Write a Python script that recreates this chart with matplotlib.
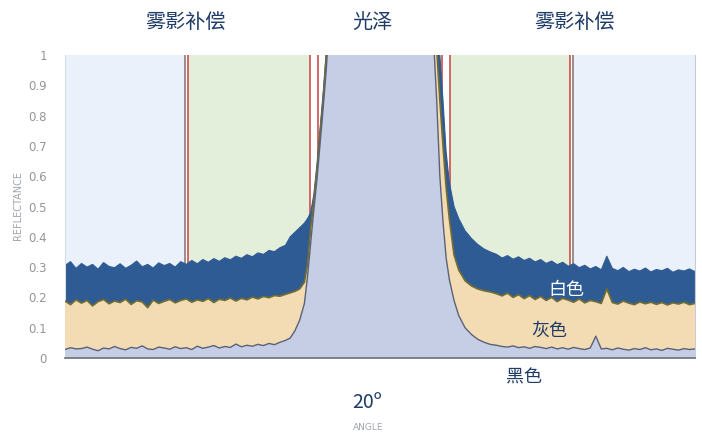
import matplotlib
matplotlib.use("Agg")
import matplotlib.pyplot as plt
import numpy as np

plt.rcParams['font.family'] = ['Noto Sans CJK SC', 'DejaVu Sans']

# ---------------- data ----------------
angle_left = [0.0, 0.35, 0.7, 1.05, 1.4, 1.75, 2.1, 2.45, 2.8, 3.15,
              3.5, 3.85, 4.2, 4.55, 4.9, 5.25, 5.6, 5.95, 6.3, 6.65,
              7.0, 7.35, 7.7, 8.05, 8.4, 8.75, 9.1, 9.45, 9.8, 10.15,
              10.5, 10.85, 11.2, 11.55, 11.9, 12.25, 12.6, 12.95, 13.3, 13.65, 14.0]
white_left = [0.305, 0.318, 0.296, 0.312, 0.300, 0.309, 0.293, 0.315, 0.302, 0.298,
              0.311, 0.296, 0.306, 0.320, 0.301, 0.309, 0.297, 0.314, 0.305, 0.312,
              0.300, 0.318, 0.309, 0.322, 0.311, 0.325, 0.316, 0.328, 0.319, 0.331,
              0.324, 0.336, 0.329, 0.341, 0.334, 0.347, 0.342, 0.355, 0.351, 0.364, 0.372]
gray_left = [0.188, 0.176, 0.192, 0.181, 0.190, 0.172, 0.186, 0.193, 0.179, 0.188,
             0.183, 0.194, 0.177, 0.189, 0.185, 0.166, 0.191, 0.180, 0.187, 0.193,
             0.182, 0.190, 0.195, 0.184, 0.192, 0.187, 0.196, 0.183, 0.194, 0.190,
             0.198, 0.188, 0.197, 0.192, 0.201, 0.195, 0.203, 0.199, 0.206, 0.204, 0.210]
black_left = [0.028, 0.034, 0.030, 0.031, 0.036, 0.029, 0.024, 0.033, 0.030, 0.038,
              0.031, 0.027, 0.035, 0.032, 0.040, 0.030, 0.028, 0.036, 0.033, 0.029,
              0.037, 0.031, 0.034, 0.028, 0.039, 0.032, 0.036, 0.041, 0.033, 0.038,
              0.035, 0.046, 0.037, 0.042, 0.039, 0.045, 0.041, 0.048, 0.044, 0.052, 0.058]

angle_peak = [14.3, 14.6, 14.9, 15.2, 15.4, 15.6, 15.8, 16.0, 16.2, 16.4, 16.6, 16.8, 17.2,
              20.0,
              22.8, 23.2, 23.4, 23.6, 23.8, 24.0, 24.2, 24.4, 24.7, 25.0, 25.4, 25.8, 26.2, 26.6, 27.0]
white_peak = [0.40, 0.415, 0.43, 0.445, 0.46, 0.48, 0.54, 0.64, 0.76, 0.88, 1.02, 1.2, 1.5,
              3.0,
              1.5, 1.3, 1.18, 1.08, 1.0, 0.85, 0.68, 0.58, 0.50, 0.46, 0.42, 0.395, 0.375, 0.36, 0.35]
gray_peak = [0.215, 0.22, 0.228, 0.25, 0.31, 0.43, 0.52, 0.62, 0.74, 0.86, 1.0, 1.18, 1.5,
             3.0,
             1.5, 1.25, 1.12, 1.02, 0.85, 0.70, 0.56, 0.46, 0.34, 0.29, 0.255, 0.238, 0.228, 0.222, 0.218]
black_peak = [0.066, 0.09, 0.125, 0.18, 0.27, 0.38, 0.49, 0.59, 0.71, 0.83, 0.96, 1.14, 1.5,
              3.0,
              1.5, 1.2, 1.05, 0.85, 0.6, 0.45, 0.33, 0.26, 0.19, 0.14, 0.10, 0.078, 0.062, 0.052, 0.045]

angle_right = [27.4, 27.75, 28.1, 28.45, 28.8, 29.15, 29.5, 29.85, 30.2, 30.55,
               30.9, 31.25, 31.6, 31.95, 32.3, 32.65, 33.0, 33.35, 33.7, 34.05,
               34.4, 34.75, 35.1, 35.45, 35.8, 36.15, 36.5, 36.85, 37.2, 37.55,
               37.9, 38.25, 38.6, 38.95, 39.3, 39.65, 40.0]
white_right = [0.342, 0.330, 0.338, 0.326, 0.334, 0.322, 0.329, 0.317, 0.325, 0.312,
               0.320, 0.308, 0.316, 0.303, 0.311, 0.298, 0.306, 0.294, 0.302, 0.291,
               0.336, 0.296, 0.288, 0.299, 0.285, 0.293, 0.287, 0.297, 0.284, 0.292,
               0.288, 0.296, 0.283, 0.291, 0.287, 0.294, 0.285]
gray_right = [0.212, 0.205, 0.214, 0.200, 0.209, 0.196, 0.206, 0.193, 0.203, 0.190,
              0.200, 0.186, 0.197, 0.191, 0.184, 0.195, 0.182, 0.190, 0.186, 0.180,
              0.228, 0.183, 0.178, 0.188, 0.181, 0.176, 0.185, 0.179, 0.184, 0.177,
              0.183, 0.175, 0.182, 0.178, 0.184, 0.176, 0.180]
black_right = [0.042, 0.038, 0.036, 0.040, 0.034, 0.037, 0.032, 0.038, 0.035, 0.031,
               0.036, 0.030, 0.034, 0.029, 0.035, 0.031, 0.028, 0.033, 0.072, 0.030,
               0.032, 0.027, 0.033, 0.029, 0.026, 0.031, 0.028, 0.034, 0.027, 0.030,
               0.025, 0.032, 0.029, 0.026, 0.031, 0.028, 0.030]

# zones (angle)
haze_left = (7.81, 15.56)
haze_right = (24.44, 32.06)
outer_left = (0.0, 7.62)
outer_right = (32.25, 40.0)
red_lines = [7.81, 15.56, 16.06, 23.94, 24.44, 32.06]
gray_lines = [7.62, 32.25]

y_ticks = [0, 0.1, 0.2, 0.3, 0.4, 0.5, 0.6, 0.7, 0.8, 0.9, 1]
y_tick_labels = ['0', '0.1', '0.2', '0.3', '0.4', '0.5', '0.6', '0.7', '0.8', '0.9', '1']

# ---------------- figure ----------------
x = np.array(angle_left + angle_peak + angle_right)
white = np.array(white_left + white_peak + white_right)
gray = np.array(gray_left + gray_peak + gray_right)
black = np.array(black_left + black_peak + black_right)

W, H = 702, 434
fig = plt.figure(figsize=(W / 100, H / 100), dpi=100)
ax = fig.add_axes([65 / W, 1 - 358 / H, (695 - 65) / W, (358 - 55) / H])

ax.axvspan(*outer_left, color='#eaf1fa', zorder=0, lw=0)
ax.axvspan(*outer_right, color='#eaf1fa', zorder=0, lw=0)
ax.axvspan(*haze_left, color='#e3efda', zorder=0, lw=0)
ax.axvspan(*haze_right, color='#e3efda', zorder=0, lw=0)
for v in red_lines:
    ax.axvline(v, color='#c9504a', lw=1.2, zorder=1)
for v in gray_lines:
    ax.axvline(v, color='#8e7a78', lw=1.2, zorder=1)

ax.fill_between(x, 0, white, color='#2f5b94', lw=0, zorder=2)
ax.plot(x, white, color='#2f5b94', lw=0.8, zorder=2)
ax.fill_between(x, 0, gray, color='#f3dcb4', lw=0, zorder=3)
ax.plot(x, gray, color='#736e30', lw=1.2, zorder=3)
ax.fill_between(x, 0, black, color='#c6cee6', lw=0, zorder=4)
ax.plot(x, black, color='#5a6278', lw=1.0, zorder=4)

ax.set_xlim(0, 40)
ax.set_ylim(0, 1)
ax.set_xticks([])
ax.set_yticks(y_ticks)
ax.set_yticklabels(y_tick_labels, fontsize=8.5, color='#959595', family=['DejaVu Sans'])
ax.tick_params(axis='y', length=0, pad=13)
ax.spines['top'].set_visible(False)
ax.spines['left'].set_color('#d8dde4')
ax.spines['right'].set_color('#c8ccd4')
ax.spines['bottom'].set_color('#6a7080')
ax.spines['bottom'].set_linewidth(1.2)
ax.spines['bottom'].set_zorder(6)

navy = '#1f3b66'
def ftext(px, py, s, **kw):
    fig.text(px / W, 1 - py / H, s, ha='center', va='center', **kw)

ftext(18, 205, 'REFLECTANCE', rotation=90, fontsize=7, color='#a0a4aa',
      family=['DejaVu Sans'])
ftext(186, 22, '雾影补偿', fontsize=14.5, color=navy)
ftext(372, 22, '光泽', fontsize=14.5, color=navy)
ftext(575, 22, '雾影补偿', fontsize=14.5, color=navy)
ftext(566, 290, '白色', fontsize=13, color='white')
ftext(549, 331, '灰色', fontsize=13, color=navy)
ftext(524, 378, '黑色', fontsize=13, color=navy)
ftext(367, 403, '20º', fontsize=14, color=navy)
ftext(368, 428, 'ANGLE', fontsize=6.5, color='#a0a4aa', family=['DejaVu Sans'])

fig.savefig('out.png', dpi=100)
